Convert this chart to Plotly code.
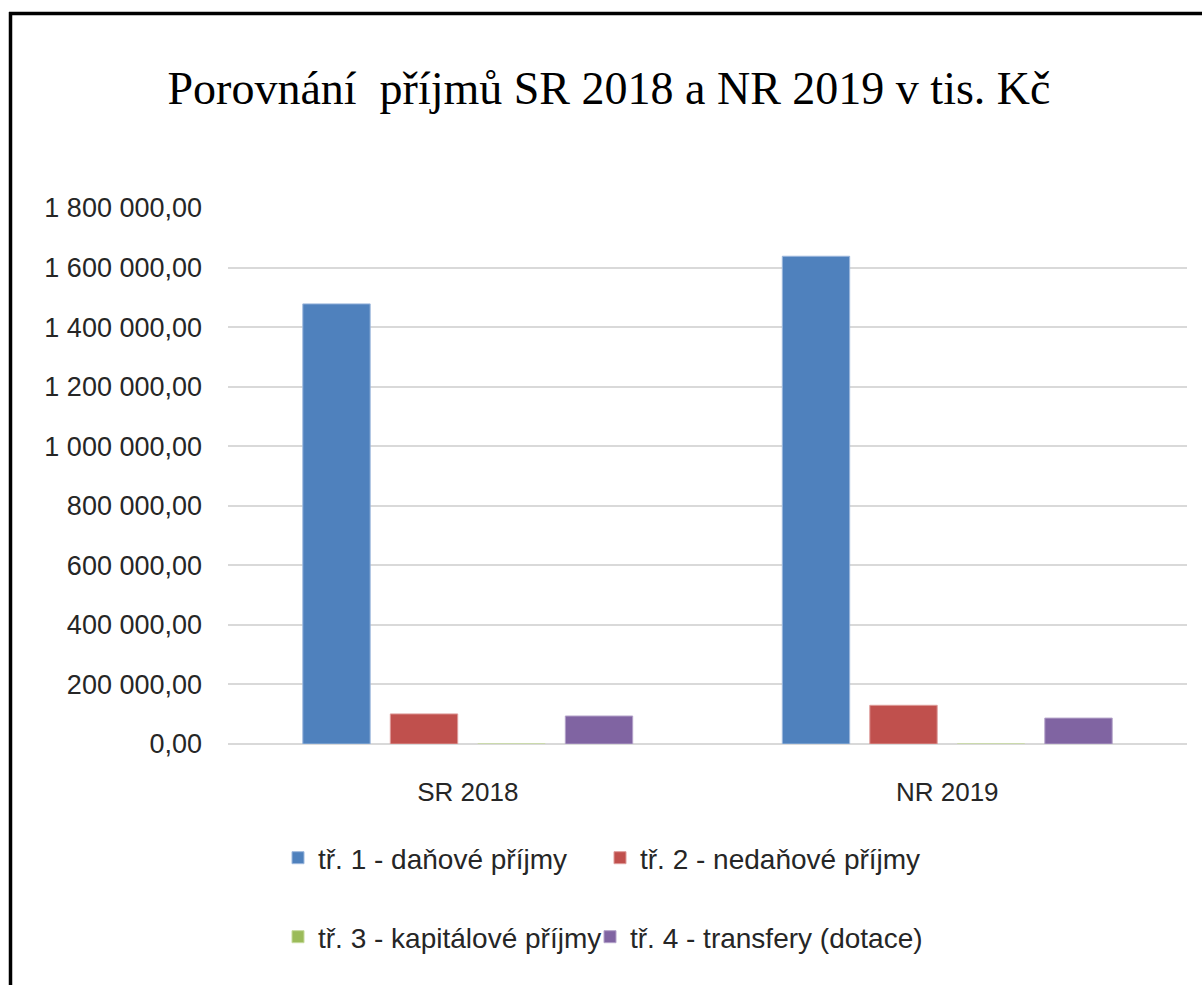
import plotly.graph_objects as go

categories = ["SR 2018", "NR 2019"]
series_names = [
    "tř. 1 - daňové příjmy",
    "tř. 2 - nedaňové příjmy",
    "tř. 3 - kapitálové příjmy",
    "tř. 4 - transfery (dotace)",
]
tr1_danove = [1478000, 1638000]
tr2_nedanove = [101000, 130000]
tr3_kapitalove = [0, 0]
tr4_transfery = [94000, 87000]
colors = ["#4F81BD", "#C0504D", "#9BBB59", "#8064A2"]
edge_colors = ["#9DB8DD", "#DE9C9A", "#C6DA9C", "#B3A2C9"]
tick_values = [0, 200000, 400000, 600000, 800000, 1000000, 1200000, 1400000, 1600000, 1800000]
tick_labels = ["0,00", "200 000,00", "400 000,00", "600 000,00", "800 000,00",
               "1 000 000,00", "1 200 000,00", "1 400 000,00", "1 600 000,00", "1 800 000,00"]

W, H = 1202, 985
ML, MR, MT, MB = 228, 15, 208, 241
FONT = "Liberation Sans Narrow, Arial Narrow, Liberation Sans, sans-serif"
TXT = "#262626"

all_series = [tr1_danove, tr2_nedanove, tr3_kapitalove, tr4_transfery]
legend_ids = ["legend", "legend2", "legend3", "legend4"]

fig = go.Figure()
for name, vals, c, ec, lg in zip(series_names, all_series, colors, edge_colors, legend_ids):
    fig.add_trace(go.Bar(
        x=categories, y=vals, name=name,
        marker=dict(color=c, line=dict(color=ec, width=1)),
        legend=lg, showlegend=True,
    ))

pw = W - ML - MR
ph = H - MT - MB

def px_x(p):
    return (p - ML) / pw

def px_y(p):
    return (H - MB - p) / ph

def leg(xpx, ypx):
    return dict(
        orientation="h", x=px_x(xpx), xanchor="left", y=px_y(ypx), yanchor="middle",
        font=dict(family=FONT, size=28, color=TXT),
        bgcolor="rgba(0,0,0,0)",
    )

fig.update_layout(
    width=W, height=H,
    showlegend=True,
    margin=dict(l=ML, r=MR, t=MT, b=MB),
    paper_bgcolor="white", plot_bgcolor="white",
    barmode="group", bargap=0.27, bargroupgap=0.23,
    title=dict(
        text="Porovnání&nbsp;&nbsp;příjmů SR 2018 a NR 2019 v tis. Kč",
        font=dict(family="Liberation Serif, Times New Roman, serif", size=46, color="#000000"),
        xref="container", x=609 / W, xanchor="center",
        yref="container", y=1 - 88 / H, yanchor="middle",
    ),
    font=dict(family=FONT, color=TXT),
    xaxis=dict(
        showgrid=False, showline=False, ticks="",
        tickfont=dict(family=FONT, size=26, color=TXT),
        ticklabelstandoff=30,
    ),
    yaxis=dict(
        range=[0, 1800000], tickvals=tick_values, ticktext=tick_labels,
        showgrid=True, gridcolor="#D9D9D9", gridwidth=2,
        zeroline=True, zerolinecolor="#D9D9D9", zerolinewidth=2,
        showline=False, ticks="",
        tickfont=dict(family=FONT, size=27, color=TXT),
        ticklabelstandoff=25,
    ),
    legend=leg(278, 858),
    legend2=leg(600, 858),
    legend3=leg(278, 937),
    legend4=leg(590, 937),
    shapes=[
        dict(type="line", xref="paper", yref="paper",
             x0=px_x(10.5), x1=px_x(10.5), y0=px_y(12), y1=px_y(1000),
             line=dict(color="black", width=3.5)),
        dict(type="line", xref="paper", yref="paper",
             x0=px_x(9), x1=px_x(1210), y0=px_y(13.5), y1=px_y(13.5),
             line=dict(color="black", width=3.5)),
    ],
)

fig.write_html(
    "out.html",
    config={"displayModeBar": False},
    post_script="document.body.style.margin='0';document.body.style.padding='0';",
)
